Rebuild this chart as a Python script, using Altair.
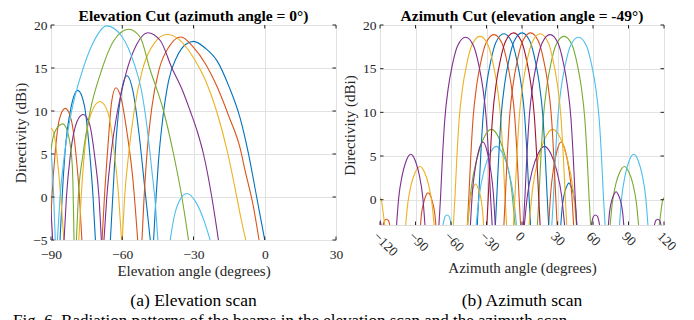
import altair as alt
import pandas as pd

FONT = "Liberation Serif"
AX = "#262626"
GRID = "#e2e2e2"
C_BLUE, C_ORANGE, C_YELLOW = "#0072BD", "#D95319", "#EDB120"
C_PURPLE, C_GREEN, C_LBLUE, C_DRED = "#7E2F8E", "#77AC30", "#4DBEEE", "#A2142F"

# ---------------- Elevation cut (left) : lobes as (x list, y list) ----------------
elev_blue = [
    ([-46.8, -46, -44.8, -43, -40.5, -37, -33.5, -30, -25, -20, -15, -10.4, -6.9, -3.4, -1.5, 0],
     [-5, -1, 4, 9, 13.5, 16.3, 17.7, 18.1, 17.3, 15.8, 12.8, 9.2, 5.1, 0, -2.8, -5]),
    ([-65, -64, -62.5, -60.5, -58, -55.5, -53, -50.5, -48.2],
     [-5, 0, 7, 12, 14.1, 12.3, 7.5, 1, -5]),
    ([-86.2, -85.3, -84, -81.5, -78.7, -76, -74, -72.3, -71.3],
     [-5, 0, 5.5, 10.5, 12.4, 10.7, 6, 0, -5]),
]
elev_orange = [
    ([-51.7, -50.8, -49.6, -47.5, -44.5, -40, -35.3, -30, -25, -20.2, -15, -10.4, -8.3, -4.8, -2.4],
     [-5, 0, 5, 10.5, 14.8, 17.6, 18.6, 17.4, 15.5, 12.9, 9.3, 5.7, 3.1, -1.1, -5]),
    ([-68.5, -67.5, -66, -64.5, -62.7, -60.5, -58, -55.5, -53.5],
     [-5, 0, 6, 11, 12.7, 11.5, 7.5, 2, -5]),
    ([-90.5, -89.6, -88.3, -86.5, -84, -81.5, -79.5, -78, -77],
     [-5, 0, 5, 9, 10.3, 9, 5, 0, -5]),
]
elev_yellow = [
    ([-60, -59, -57.3, -55, -51.5, -46.5, -41.2, -36, -30, -25, -20.3, -15.5, -12.5, -10, -8],
     [-5, 0, 5, 10, 14.8, 17.9, 18.9, 18.3, 16.2, 13.6, 10, 5, 1, -2.5, -5]),
    ([-78.3, -77.3, -75.8, -73, -69.4, -66, -63.5, -61.5, -60.3],
     [-5, 0, 5.5, 9.8, 11.1, 9.8, 5.5, 0, -5]),
    ([-92, -90, -88.5, -87, -85.6, -84.6],
     [7, 8, 7, 3.5, -1, -5]),
]
elev_purple = [
    ([-67.7, -66.5, -64.5, -62, -58.5, -54, -49.3, -44, -39.1, -34.5, -31.4, -28.5, -25.8, -22.3, -19.5],
     [-5, 0, 5.5, 10, 14.3, 17.7, 19.1, 18.2, 15, 12.3, 10, 7.7, 5, 0, -5]),
    ([-84.5, -83.5, -81.8, -79, -76.5, -73.8, -71.5, -69.8, -68.8],
     [-5, 0, 5, 8.8, 9.6, 8.5, 4.5, 0, -5]),
    ([-91, -90, -89.3],
     [0, -1.7, -5]),
]
elev_green = [
    ([-79.3, -78.5, -76.5, -73.5, -69, -63.5, -57.3, -52.5, -48.5, -42.6, -38.4, -34.9, -32.1],
     [-5, 0, 5, 10, 14.5, 18.2, 19.5, 18.6, 15, 10, 5, 0, -5]),
    ([-92, -90, -88, -85, -82.5, -81, -80.3],
     [-1, 5.5, 7.8, 8.5, 7, 3.5, -5]),
]
elev_lblue = [
    ([-87.3, -86.2, -84.3, -81.3, -77, -72.5, -66.5, -60, -55, -52, -49.5, -47.5, -46, -45],
     [-5, 0, 5, 10, 14.5, 17.8, 19.9, 18.6, 15.5, 12.5, 8, 3, -1, -5]),
    ([-92, -90, -89, -88.2],
     [8, 5.3, 1, -5]),
    ([-39.8, -38.3, -36, -32.8, -29, -25.5, -23],
     [-5, -2.5, -0.5, 0.4, -0.6, -2.8, -5]),
]

# ---------------- Azimuth cut (right) ----------------
az_purple1 = [
    ([-70.2, -68.9, -67.3, -65.3, -62.3, -58.9, -54.5, -47.7, -40.9, -36.5, -33.1, -30.1, -28.1, -26.5, -25.2],
     [-2.9, 0.1, 4.6, 9.1, 12.8, 15.4, 17.6, 18.6, 17.6, 15.4, 12.8, 9.1, 4.6, 0.1, -2.9]),
    ([-106, -104.2, -101.2, -98, -94, -90, -86.8, -83.8, -82],
     [-2.9, 0.2, 2.8, 4.4, 5.2, 4.4, 2.8, 0.2, -2.9]),
    ([2, 4.6, 8.8, 13.4, 19, 24.6, 29.2, 33.4, 36],
     [-2.9, 0.5, 3.4, 5.2, 6.1, 5.2, 3.4, 0.5, -2.9]),
    ([58.6, 59.5, 60.5, 62.1, 63.7, 64.7, 65.6],
     [-2.9, -2.3, -1.9, -1.75, -1.9, -2.3, -2.9]),
    ([-124, -121.5, -120, -119],
     [-2.2, -2.1, -2.4, -2.9]),
]
az_yellow1 = [
    ([-58, -56.7, -55.1, -53.1, -50.1, -46.7, -42.3, -35.5, -28.7, -24.3, -20.9, -17.9, -15.9, -14.3, -13],
     [-2.9, 0.2, 4.7, 9.2, 12.9, 15.5, 17.7, 18.7, 17.7, 15.5, 12.9, 9.2, 4.7, 0.2, -2.9]),
    ([-98.3, -96.5, -93.5, -90.3, -86.3, -82.3, -79.1, -76.1, -74.3],
     [-2.9, -0.4, 1.8, 3.1, 3.8, 3.1, 1.8, -0.4, -2.9]),
    ([6, 9, 14, 19.4, 26, 32.6, 38, 43, 46],
     [-2.9, 1.3, 4.8, 7, 8.05, 7, 4.8, 1.3, -2.9]),
    ([-124, -121, -119, -117.3, -116],
     [0.1, 0.3, 0, -1.5, -2.9]),
]
az_orange1 = [
    ([-46.2, -44.9, -43.3, -41.3, -38.3, -34.9, -30.5, -23.7, -16.9, -12.5, -9.1, -6.1, -4.1, -2.5, -1.2],
     [-2.9, 0.4, 4.9, 9.4, 13.1, 15.7, 17.9, 18.9, 17.9, 15.7, 13.1, 9.4, 4.9, 0.4, -2.9]),
    ([-85.8, -84.8, -83, -81.3, -79.3, -77.3, -75.6, -73.8, -72.8],
     [-2.9, -1.5, -0.3, 0.45, 0.8, 0.45, -0.3, -1.5, -2.9]),
    ([22.6, 24.2, 26.8, 29.6, 33.1, 36.6, 39.4, 42, 43.6],
     [-2.9, 0.7, 3.7, 5.6, 6.6, 5.6, 3.7, 0.7, -2.9]),
    ([-117.3, -116.2, -114.5, -112.8, -111.7],
     [-2.9, -2.4, -2.25, -2.4, -2.9]),
]
az_blue1 = [
    ([-37.8, -36.5, -34.9, -32.9, -29.9, -26.5, -22.1, -15.3, -8.5, -4.1, -0.7, 2.3, 4.3, 5.9, 7.2],
     [-2.9, 0.5, 5.0, 9.5, 13.2, 15.8, 18.0, 19.0, 18.0, 15.8, 13.2, 9.5, 5.0, 0.5, -2.9]),
    ([32.8, 33.8, 35.5, 37.4, 39.6, 41.8, 43.7, 45.4, 46.4],
     [-2.9, -1.1, 0.5, 1.4, 1.9, 1.4, 0.5, -1.1, -2.9]),
]
az_dred = [
    ([-29.7, -28.4, -26.8, -24.8, -21.8, -18.4, -14, -7.2, -0.4, 4, 7.4, 10.4, 12.4, 14, 15.3],
     [-2.9, 0.6, 5.1, 9.6, 13.3, 15.9, 18.1, 19.1, 18.1, 15.9, 13.3, 9.6, 5.1, 0.6, -2.9]),
]
az_blue2 = [
    ([-22.5, -21.2, -19.6, -17.6, -14.6, -11.2, -6.8, 0, 6.8, 11.2, 14.6, 17.6, 19.6, 21.2, 22.5],
     [-2.9, 0.6, 5.1, 9.6, 13.3, 15.9, 18.1, 19.1, 18.1, 15.9, 13.3, 9.6, 5.1, 0.6, -2.9]),
]
az_orange2 = [
    ([-15.3, -14, -12.4, -10.4, -7.4, -4, 0.4, 7.2, 14, 18.4, 21.8, 24.8, 26.8, 28.4, 29.7],
     [-2.9, 0.6, 5.1, 9.6, 13.3, 15.9, 18.1, 19.1, 18.1, 15.9, 13.3, 9.6, 5.1, 0.6, -2.9]),
]
az_yellow2 = [
    ([-7.2, -5.9, -4.3, -2.3, 0.7, 4.1, 8.5, 15.3, 22.1, 26.5, 29.9, 32.9, 34.9, 36.5, 37.8],
     [-2.9, 0.5, 5.0, 9.5, 13.2, 15.8, 18.0, 19.0, 18.0, 15.8, 13.2, 9.5, 5.0, 0.5, -2.9]),
    ([-46, -45, -43.3, -41.4, -39.2, -37, -35.1, -33.4, -32.4],
     [-2.9, -1.2, 0.4, 1.3, 1.8, 1.3, 0.4, -1.2, -2.9]),
]
az_purple2 = [
    ([1.2, 2.5, 4.1, 6.1, 9.1, 12.5, 16.9, 23.7, 30.5, 34.9, 38.3, 41.3, 43.3, 44.9, 46.2],
     [-2.9, 0.4, 4.9, 9.4, 13.1, 15.7, 17.9, 18.9, 17.9, 15.7, 13.1, 9.4, 4.9, 0.4, -2.9]),
    ([-43.6, -42, -39.4, -36.6, -33.1, -29.6, -26.8, -24.2, -22.6],
     [-2.9, 0.7, 3.7, 5.6, 6.6, 5.6, 3.7, 0.7, -2.9]),
    ([73, 74, 75.6, 77.4, 79.5, 81.6, 83.4, 85, 86],
     [-2.9, -1.4, -0.2, 0.5, 0.9, 0.5, -0.2, -1.4, -2.9]),
    ([111.9, 113, 114.7, 116.4, 117.5],
     [-2.9, -2.4, -2.25, -2.4, -2.9]),
]
az_green = [
    ([13, 14.3, 15.9, 17.9, 20.9, 24.3, 28.7, 35.5, 42.3, 46.7, 50.1, 53.1, 55.1, 56.7, 58],
     [-2.9, 0.2, 4.7, 9.2, 12.9, 15.5, 17.7, 18.7, 17.7, 15.5, 12.9, 9.2, 4.7, 0.2, -2.9]),
    ([-45.9, -42.9, -37.9, -32.5, -25.9, -19.3, -13.9, -8.9, -5.9],
     [-2.9, 1.3, 4.8, 7, 8.05, 7, 4.8, 1.3, -2.9]),
    ([74.5, 76.3, 79.3, 82.5, 86.5, 90.5, 93.7, 96.7, 98.5],
     [-2.9, -0.4, 1.8, 3.1, 3.8, 3.1, 1.8, -0.4, -2.9]),
    ([116, 117.3, 119, 121, 124],
     [-2.9, -1.5, 0, 0.3, 0.1]),
]
az_lblue = [
    ([25.2, 26.5, 28.1, 30.1, 33.1, 36.5, 40.9, 47.7, 54.5, 58.9, 62.3, 65.3, 67.3, 68.9, 70.2],
     [-2.9, 0.1, 4.6, 9.1, 12.8, 15.4, 17.6, 18.6, 17.6, 15.4, 12.8, 9.1, 4.6, 0.1, -2.9]),
    ([-38.7, -36.1, -31.9, -27.3, -21.7, -16.1, -11.5, -7.3, -4.7],
     [-2.9, 0.5, 3.4, 5.2, 6.1, 5.2, 3.4, 0.5, -2.9]),
    ([82.4, 84.2, 87.2, 90.4, 94.4, 98.4, 101.6, 104.6, 106.4],
     [-2.9, 0.2, 2.8, 4.4, 5.2, 4.4, 2.8, 0.2, -2.9]),
    ([-66.8, -65.9, -64.9, -63.3, -61.7, -60.7, -59.8],
     [-2.9, -2.3, -1.9, -1.75, -1.9, -2.3, -2.9]),
]

ELEV_BEAMS = [(C_BLUE, elev_blue), (C_ORANGE, elev_orange), (C_YELLOW, elev_yellow),
              (C_PURPLE, elev_purple), (C_GREEN, elev_green), (C_LBLUE, elev_lblue)]
AZ_BEAMS = [(C_BLUE, az_blue1), (C_ORANGE, az_orange1), (C_YELLOW, az_yellow1),
            (C_PURPLE, az_purple1), (C_GREEN, az_green), (C_LBLUE, az_lblue),
            (C_DRED, az_dred), (C_BLUE, az_blue2), (C_ORANGE, az_orange2),
            (C_YELLOW, az_yellow2), (C_PURPLE, az_purple2)]

ELEV_XTICKS = [-90, -60, -30, 0, 30]
ELEV_YTICKS = [-5, 0, 5, 10, 15, 20]
AZ_XTICKS = [-120, -90, -60, -30, 0, 30, 60, 90, 120]
AZ_YTICKS = [0, 5, 10, 15, 20]
FIG_CAPTION = "Fig. 6.  Radiation patterns of the beams in the elevation scan and the azimuth scan."


def to_frame(beams):
    rows = []
    for b, (col, lobes) in enumerate(beams):
        for k, (xs, ys) in enumerate(lobes):
            for i, (x, y) in enumerate(zip(xs, ys)):
                rows.append(dict(col=col, lobe=f"{b}-{k}", i=i, x=x, y=y))
    return pd.DataFrame(rows)


def panel(beams, xdom, ydom, xticks, yticks, W, H, title, xtitle, caption, rot, extra=None):
    xs = alt.Scale(domain=xdom, nice=False, zero=False)
    ys = alt.Scale(domain=ydom, nice=False, zero=False)
    xaxis = alt.Axis(values=xticks, grid=True, gridColor=GRID, ticks=False, domain=False,
                     labelFont=FONT, labelFontSize=13.5, labelColor=AX, title=xtitle,
                     titleFont=FONT, titleFontSize=15, titleFontWeight="normal", titleColor=AX,
                     labelAngle=45 if rot else 0, labelAlign="left" if rot else "center",
                     labelBaseline="top", labelPadding=4 if rot else 7, titlePadding=2 if rot else 3,
                     format="d", labelFlush=False, labelOverlap=False)
    yaxis = alt.Axis(values=yticks, grid=True, gridColor=GRID, ticks=False, domain=False,
                     labelFont=FONT, labelFontSize=13.5, labelColor=AX, title="Directivity (dBi)",
                     titleFont=FONT, titleFontSize=15, titleFontWeight="normal", titleColor=AX,
                     labelPadding=4, titlePadding=0, minExtent=23, maxExtent=23, format="d",
                     labelFlush=False, labelOverlap=False)
    df = to_frame(beams)
    lines = alt.Chart(df).mark_line(clip=True, strokeWidth=1.1, interpolate="monotone").encode(
        x=alt.X("x:Q", scale=xs, axis=xaxis),
        y=alt.Y("y:Q", scale=ys, axis=yaxis),
        color=alt.Color("col:N", scale=None),
        detail="lobe:N",
        order="i:Q",
    )
    tx = pd.DataFrame({"t": xticks})
    ty = pd.DataFrame({"t": yticks})
    L = 3.5
    tb = alt.Chart(tx).mark_rule(color=AX, strokeWidth=1).encode(
        x=alt.X("t:Q", scale=xs, axis=xaxis), y=alt.value(H), y2=alt.value(H - L))
    tt = alt.Chart(tx).mark_rule(color=AX, strokeWidth=1).encode(
        x=alt.X("t:Q", scale=xs, axis=xaxis), y=alt.value(0), y2=alt.value(L))
    tl = alt.Chart(ty).mark_rule(color=AX, strokeWidth=1).encode(
        y=alt.Y("t:Q", scale=ys, axis=yaxis), x=alt.value(0), x2=alt.value(L))
    tr = alt.Chart(ty).mark_rule(color=AX, strokeWidth=1).encode(
        y=alt.Y("t:Q", scale=ys, axis=yaxis), x=alt.value(W - L), x2=alt.value(W))
    cap = alt.Chart(pd.DataFrame({"c": [caption]})).mark_text(
        font=FONT, fontSize=17.5, color="#000000", align="center", baseline="middle").encode(
        text="c:N", x=alt.value(W / 2), y=alt.value(276))
    layers = [lines, tb, tt, tl, tr, cap]
    if extra:
        figcap = alt.Chart(pd.DataFrame({"c": [extra]})).mark_text(
            font=FONT, fontSize=17, color="#000000", align="left", baseline="alphabetic").encode(
            text="c:N", x=alt.value(-38), y=alt.value(301))
        layers.append(figcap)
    return alt.layer(*layers).properties(
        width=W, height=H,
        title=alt.TitleParams(title, font=FONT, fontSize=15.5, fontWeight="bold", color="#000000",
                              anchor="middle", offset=-6))


left = panel(ELEV_BEAMS, [-90, 30], [-5, 20], ELEV_XTICKS, ELEV_YTICKS, 285, 215,
             "Elevation Cut (azimuth angle = 0°)", "Elevation angle (degrees)", "(a) Elevation scan", False,
             extra=FIG_CAPTION)
right = panel(AZ_BEAMS, [-120, 120], [-2.9, 20], AZ_XTICKS, AZ_YTICKS, 284, 200,
              "Azimuth Cut (elevation angle = -49°)", "Azimuth angle (degrees)", "(b) Azimuth scan", True)

chart = alt.hconcat(left, right, spacing=44, bounds="flush").properties(
    padding={"left": 4, "top": 0, "right": 0, "bottom": 0}
).configure_view(stroke=AX, strokeWidth=1).configure(background="white")

chart.save("out.html", embed_options={"renderer": "svg", "actions": False})
